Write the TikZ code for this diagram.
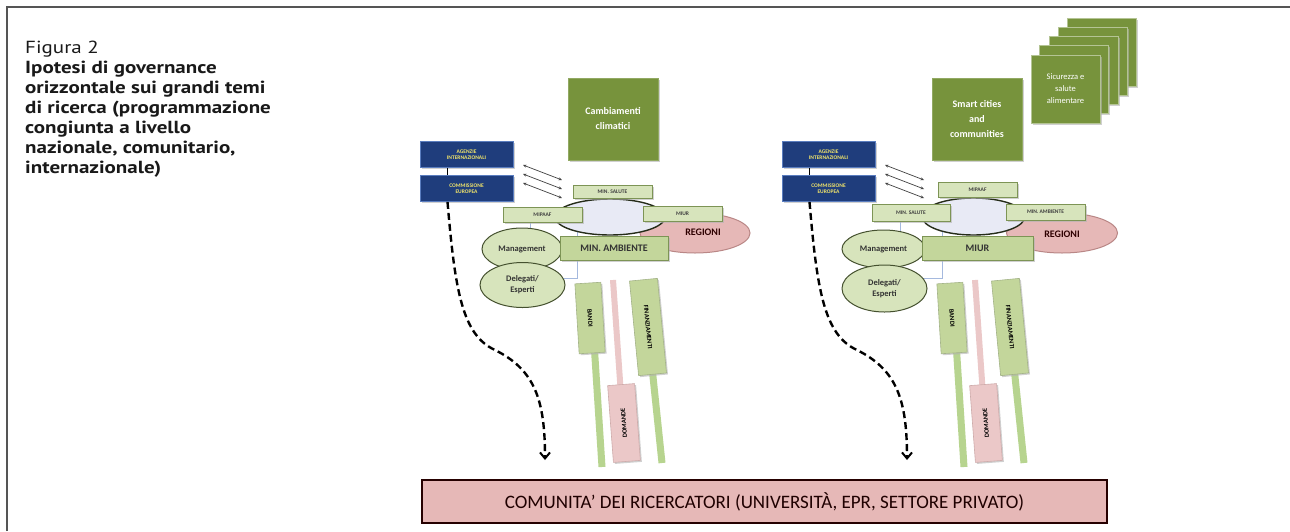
\documentclass[tikz,border=0pt]{standalone}
\usepackage{fontspec}
\setmainfont{PT Sans}
\newfontfamily\capfont[FakeStretch=1.2]{PT Sans}
\newfontfamily\diag{Carlito}
\usetikzlibrary{arrows.meta,shapes.geometric,shadows}
\definecolor{navy}{HTML}{1F3D7C}
\definecolor{navyb}{HTML}{5A7DBF}
\definecolor{yell}{HTML}{F2E56A}
\definecolor{olive}{HTML}{77933C}
\definecolor{lgfill}{HTML}{D7E4BC}
\definecolor{lgdraw}{HTML}{7D9455}
\definecolor{mgfill}{HTML}{C3D69B}
\definecolor{pinkf}{HTML}{E6B8B7}
\definecolor{pinkd}{HTML}{B98786}
\definecolor{lav}{HTML}{E8EAF5}
\definecolor{stemg}{HTML}{B7D48F}
\definecolor{stemp}{HTML}{EBC8C8}
\definecolor{lblue}{HTML}{A5B9DE}
\definecolor{frame}{HTML}{555555}
\begin{document}
\begin{tikzpicture}[x=1pt,y=-1pt,
  shd/.style={drop shadow={shadow xshift=1.5pt,shadow yshift=-1.5pt,fill=black!30,opacity=0.6}},
  bluebox/.style={draw=navyb,fill=navy,line width=0.8pt,text=yell,align=center,
    font=\diag\bfseries\fontsize{5.5}{6}\selectfont,minimum width=93pt,minimum height=26pt,inner sep=0pt,shd},
  bigbox/.style={fill=olive,draw=olive!80!white,line width=0.6pt,text=white,align=center,
    font=\diag\bfseries\fontsize{10}{15}\selectfont,minimum width=90pt,minimum height=82pt,inner sep=0pt,shd},
  stackbox/.style={fill=olive,draw=olive!55!white,line width=1pt,text=white,align=center,
    font=\diag\fontsize{8.5}{12}\selectfont,minimum width=69pt,minimum height=68pt,inner sep=0pt,shd},
  sbox/.style={draw=lgdraw,fill=lgfill,line width=1pt,inner sep=0pt,
    font=\diag\bfseries\fontsize{5.5}{5.5}\selectfont,text=black!75,shd},
  minbox/.style={draw=lgdraw,fill=mgfill,line width=1pt,inner sep=0pt,
    font=\diag\bfseries\fontsize{10}{10}\selectfont,text=black!80,shd},
  mellipse/.style={ellipse,draw=black!45!lgdraw,fill=lgfill,line width=1pt,inner sep=0pt,align=center,
    font=\diag\bfseries\fontsize{8.5}{11}\selectfont,text=black!80},
  regtxt/.style={font=\diag\bfseries\fontsize{10}{10}\selectfont,text=black!70!red!60!black},
  regell/.style={ellipse,draw=pinkd,fill=pinkf,line width=1pt,inner sep=0pt},
  cell/.style={ellipse,draw=black!70!lgdraw,fill=lav,line width=1.4pt,inner sep=0pt},
  gbar/.style={draw=lgdraw!70,fill=mgfill,line width=0.6pt,inner sep=0pt,
    font=\diag\bfseries\fontsize{6.5}{6.5}\selectfont,text=black,shd},
  pbar/.style={draw=pinkd!70,fill=stemp,line width=0.6pt,inner sep=0pt,
    font=\diag\bfseries\fontsize{6.5}{6.5}\selectfont,text=black,shd},
  gstem/.style={draw=stemg,line width=7pt},
  pstem/.style={draw=stemp,line width=6pt},
  darr/.style={draw=black!75,line width=0.7pt,{Stealth[length=3.5pt,width=3pt]}-{Stealth[length=3.5pt,width=3pt]}},
  dcurve/.style={draw=black,line width=2.4pt,dash pattern=on 7pt off 4pt,-{Straight Barb[length=6pt,width=10pt,line width=2pt]}},
  captxt/.style={anchor=base west,inner sep=0pt,font=\capfont\bfseries\fontsize{17.5}{20}\selectfont,text=black!90}
]
\useasboundingbox (0,0) rectangle (1290,531);
\fill[white] (0,0) rectangle (1290,531);
% frame
\draw[frame,line width=1.6pt] (7,531) -- (7,7) -- (1290,7);

% caption
\node[captxt,font=\capfont\fontsize{17.5}{20}\selectfont] (cap0) at (25,53) {Figura 2};
\node[captxt] (cap1) at (25,73) {Ipotesi di governance};
\node[captxt] (cap2) at (25,93) {orizzontale sui grandi temi};
\node[captxt] (cap3) at (25,113) {di ricerca (programmazione};
\node[captxt] (cap4) at (25,133) {congiunta a livello};
\node[captxt] (cap5) at (25,153) {nazionale, comunitario,};
\node[captxt] (cap6) at (25,173) {internazionale)};

% top green boxes
\node[bigbox] (camb) at (613,119) {Cambiamenti\\climatici};
\node[bigbox] (smart) at (977,119) {Smart cities\\and\\communities};
\node[stackbox] (st4) at (1102,52.0) {};
\node[stackbox] (st3) at (1092.75,61.25) {};
\node[stackbox] (st2) at (1083.5,70.5) {};
\node[stackbox] (st1) at (1074.25,79.75) {};
\node[stackbox] (st0) at (1065.5,89) {Sicurezza e\\salute\\alimentare};

% bottom box
\node[draw=black!85!red,fill=pinkf,line width=2pt,minimum width=685pt,minimum height=43pt,inner sep=0pt,
  font=\diag\fontsize{19}{22}\selectfont,text=black!70!red!40!black] (comm) at (764.5,501.5)
  {COMUNITA’ DEI RICERCATORI (UNIVERSITÀ, EPR, SETTORE PRIVATO)};

% ===================== LEFT PANEL =====================
\draw[draw=lblue,fill=white,line width=0.8pt] (530,215) rectangle (577,278);
\node[regell,minimum width=110pt,minimum height=40pt] (regL) at (695,233) {};
\node[cell,minimum width=110pt,minimum height=36pt] (elL) at (610,217) {};
\node[regtxt] (regLt) at (703,232) {REGIONI};
\node[sbox,minimum width=79pt,minimum height=13pt] (salL) at (612.5,191.5) {MIN.\ SALUTE};
\node[sbox,minimum width=79pt,minimum height=15pt] (mipL) at (542.5,214.5) {MIPAAF};
\node[sbox,minimum width=79pt,minimum height=15pt] (miuL) at (682.5,213.5) {MIUR};
\node[mellipse,minimum width=80pt,minimum height=42pt] (manL) at (522,249) {Management};
\node[mellipse,minimum width=85pt,minimum height=45pt] (delL) at (522.5,285) {Delegati/\\Esperti};
\node[minbox,minimum width=108pt,minimum height=24pt] (ambL) at (614,248) {MIN.\ AMBIENTE};

\node[bluebox] (agL) at (466.5,154.5) {AGENZIE\\INTERNAZIONALI};
\node[bluebox] (ceL) at (466.5,188.5) {COMMISSIONE\\EUROPEA};
\draw[black,line width=1.2pt] ([xshift=-19pt]agL.south) -- ([xshift=-19pt]ceL.north);

\coordinate (aL1s) at (523,165); \coordinate (aL1e) at (562,180);
\coordinate (aL2s) at (523,174); \coordinate (aL2e) at (562,189);
\coordinate (aL3s) at (523,183); \coordinate (aL3e) at (562,198);
\draw[darr] (aL1s) -- (aL1e);
\draw[darr] (aL2s) -- (aL2e);
\draw[darr] (aL3s) -- (aL3e);

% bars left
\coordinate (bandiLend) at (602,467);
\coordinate (domLtop) at (613,280);
\coordinate (finLend) at (662,463);
\draw[gstem] (594.5,350) -- (bandiLend);
\draw[pstem] (domLtop) -- (620.5,388);
\draw[gstem] (652.5,372) -- (finLend);
\node[gbar,rotate=-86.5,minimum width=70pt,minimum height=26pt] (bandiL) at (590,318) {BANDI};
\node[pbar,rotate=94.3,minimum width=77pt,minimum height=27pt] (domL) at (624,423) {DOMANDE};
\node[gbar,rotate=-84.5,minimum width=95pt,minimum height=28pt] (finL) at (648,327) {FINANZIAMENTI};

\coordinate (tipL) at (545,460);
\draw[dcurve] ([xshift=-19pt]ceL.south) .. controls (455,290) and (462,335) .. (495,350)
  .. controls (535,370) and (545,400) .. (tipL);

% ===================== RIGHT PANEL =====================
\draw[draw=lblue,fill=white,line width=0.8pt] (900,215) rectangle (942,278);
\node[regell,minimum width=111pt,minimum height=40pt] (regR) at (1062,233) {};
\node[cell,minimum width=103pt,minimum height=37pt] (elR) at (973.5,216.5) {};
\node[regtxt] (regRt) at (1062,234) {REGIONI};
\node[sbox,minimum width=79pt,minimum height=15pt] (mipR) at (977.5,189.5) {MIPAAF};
\node[sbox,minimum width=78pt,minimum height=17pt] (salR) at (911,212.5) {MIN.\ SALUTE};
\node[sbox,minimum width=79pt,minimum height=16pt] (ambsR) at (1045.5,212) {MIN.\ AMBIENTE};
\node[mellipse,minimum width=83pt,minimum height=38pt] (manR) at (883.5,249) {Management};
\node[mellipse,minimum width=85pt,minimum height=47pt] (delR) at (884.5,288.5) {Delegati/\\Esperti};
\node[minbox,minimum width=111pt,minimum height=24pt] (miuR) at (977.5,248) {MIUR};

\node[bluebox] (agR) at (828.5,154.5) {AGENZIE\\INTERNAZIONALI};
\node[bluebox] (ceR) at (828.5,188.5) {COMMISSIONE\\EUROPEA};
\draw[black,line width=1.2pt] ([xshift=-19pt]agR.south) -- ([xshift=-19pt]ceR.north);

\coordinate (aR1s) at (885,165); \coordinate (aR1e) at (924,180);
\coordinate (aR2s) at (885,174); \coordinate (aR2e) at (924,189);
\coordinate (aR3s) at (885,183); \coordinate (aR3e) at (924,198);
\draw[darr] (aR1s) -- (aR1e);
\draw[darr] (aR2s) -- (aR2e);
\draw[darr] (aR3s) -- (aR3e);

\coordinate (bandiRend) at (964,467);
\coordinate (domRtop) at (975,280);
\coordinate (finRend) at (1024,463);
\draw[gstem] (956.5,350) -- (bandiRend);
\draw[pstem] (domRtop) -- (982.5,388);
\draw[gstem] (1014.5,372) -- (finRend);
\node[gbar,rotate=-86.5,minimum width=70pt,minimum height=26pt] (bandiR) at (952,318) {BANDI};
\node[pbar,rotate=94.3,minimum width=77pt,minimum height=27pt] (domR) at (986,423) {DOMANDE};
\node[gbar,rotate=-84.5,minimum width=95pt,minimum height=28pt] (finR) at (1010,327) {FINANZIAMENTI};

\coordinate (tipR) at (907,460);
\draw[dcurve] ([xshift=-19pt]ceR.south) .. controls (817,290) and (824,335) .. (857,350)
  .. controls (897,370) and (907,400) .. (tipR);
\end{tikzpicture}
\end{document}
